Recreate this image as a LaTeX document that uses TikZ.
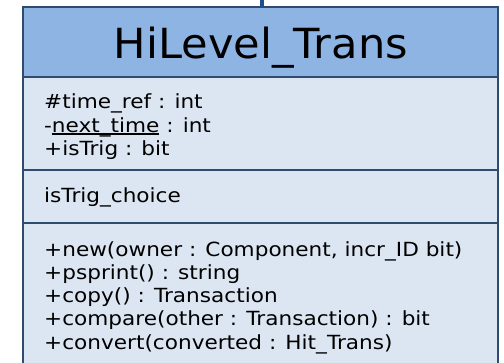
\documentclass[tikz,border=0pt]{standalone}
\usepackage{fontspec}
\setmainfont{DejaVu Sans}
\newfontfamily\titlefont[FakeStretch=1.04]{DejaVu Sans}
\newfontfamily\memberfont[FakeStretch=1.108]{DejaVu Sans}
\definecolor{headfill}{HTML}{8EB4E3}
\definecolor{bodyfill}{HTML}{DCE6F2}
\definecolor{edge}{HTML}{2F4B70}
\definecolor{link}{HTML}{1F4E8C}
% underline drawn just below the baseline, independent of glyph depth
\newcommand\memberul[1]{\setbox0\hbox{#1}\rlap{\rule[-2.6pt]{\wd0}{1.4pt}}\box0\relax}
\begin{document}
\begin{tikzpicture}[x=1pt,y=-1pt,
  compart/.style={draw=edge,line width=1.6pt,fill=bodyfill},
  member/.style={anchor=base west,inner sep=0pt,
    font=\memberfont\fontsize{19.5}{24}\selectfont},
]
\useasboundingbox (0,0) rectangle (504,362);
% class box compartments
\path[compart,fill=headfill] (23,7) rectangle (498,77);
\path[compart] (23,77) rectangle (498,170);
\path[compart] (23,170) rectangle (498,223);
\path[compart] (23,223) rectangle (498,375);
\node[inner sep=0pt,anchor=base,font=\titlefont\fontsize{41.5}{41.5}\selectfont] (title) at (261,58) {HiLevel\_Trans};
% attributes
\node[member] (a1) at (44,108.5) {\#time\_ref : int};
\node[member] (a2) at (44,132) {-\memberul{next\_time} : int};
\node[member] (a3) at (44,155.5) {+isTrig : bit};
% constraints
\node[member] (c1) at (44,202) {isTrig\_choice};
% operations
\node[member] (o1) at (44,256) {+new(owner : Component, incr\_ID bit)};
\node[member] (o2) at (44,279.25) {+psprint() : string};
\node[member] (o3) at (44,302.5) {+copy() : Transaction};
\node[member] (o4) at (44,325.75) {+compare(other : Transaction) : bit};
\node[member] (o5) at (44,349) {+convert(converted : Hit\_Trans)};
% incoming association from above
\coordinate (up) at (262,-2);
\coordinate (box) at (262,7);
\draw[link,line width=4.5pt] (up) -- (box);
\end{tikzpicture}
\end{document}
